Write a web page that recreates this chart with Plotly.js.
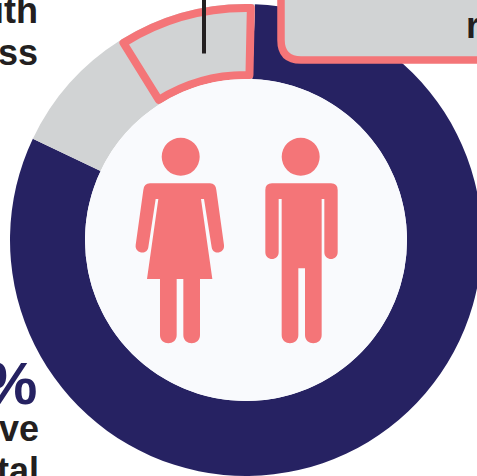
<!DOCTYPE html>
<html>
<head>
<meta charset="utf-8">
<script src="https://cdn.plot.ly/plotly-3.0.1.min.js"></script>
<style>html,body{margin:0;padding:0;width:477px;height:476px;overflow:hidden;background:#fff}</style>
</head>
<body>
<div id="chart"></div>
<script>
var sliceLabels = ["Navy share", "Grey share", "Highlighted share"];
var sliceValues = [81.45, 9.0, 9.55];
var sliceColors = ["#262262", "#d1d3d4", "#d1d3d4"];
var startAngle = 2.2;
var navy = "#262262", pink = "#f47578", grey = "#d1d3d4", ink = "#231f20", holeFill = "#f9fafd";

var W = 520, H = 520;
var cx = 246, cy = 240, rOuter = 236, rInner = 161, stroke = 8;

function fx(x){ return x / W; }
function fy(y){ return 1 - y / H; }
function pxPath(s){
  var isX = true;
  return s.replace(/-?\d+(\.\d+)?/g, function(n){
    var v = isX ? fx(+n) : fy(+n);
    isX = !isX;
    return v.toFixed(5);
  });
}
function zoomPath(s){
  var isX = true;
  return s.replace(/-?\d+(\.\d+)?/g, function(n){
    var v = isX ? fx(125 + (+n)/3) : fy(130 + (+n)/3);
    isX = !isX;
    return v.toFixed(5);
  });
}
function domainFor(r){
  return {x:[fx(cx-r), fx(cx+r)], y:[fy(cy+r), fy(cy-r)]};
}

var insetRight = 1.0, insetLeft = 0.3;
var total = sliceValues.reduce(function(a,b){return a+b;},0);
var highlightFull = sliceValues[2]/total*360;
var highlightDeg = highlightFull - insetRight - insetLeft;
var highlightStart = startAngle - highlightFull + insetLeft;
var rMid = rOuter - stroke/2;

var mainPie = {
  type:"pie", values:sliceValues, labels:sliceLabels, sort:false, direction:"clockwise",
  rotation:startAngle, hole:rInner/rOuter, textinfo:"none", hoverinfo:"skip", showlegend:false,
  marker:{colors:sliceColors, line:{width:0}},
  domain:domainFor(rOuter)
};
var outlinePie = {
  type:"pie", values:[highlightDeg, 360-highlightDeg], labels:["Outline","Rest"], sort:false, direction:"clockwise",
  rotation:highlightStart, hole:(rInner+stroke/2)/rMid, textinfo:"none", hoverinfo:"skip", showlegend:false,
  marker:{colors:[grey,"rgba(0,0,0,0)"], line:{width:[stroke,0], color:[pink,"rgba(0,0,0,0)"]}},
  domain:domainFor(rMid)
};

function circle(x,y,r,color){
  return {type:"circle", xref:"paper", yref:"paper", x0:fx(x-r), x1:fx(x+r), y0:fy(y+r), y1:fy(y-r),
          fillcolor:color, line:{width:0}};
}
var womanPath = "M 75 160 L 255 160 Q 272 160 274 180 L 297 345 C 300.5 370 263.5 377 260 352 L 237 207 L 228 207 L 262 447 L 225 447 L 225 615 C 225 648 175 648 175 615 L 175 447 L 155 447 L 155 615 C 155 648 105 648 105 615 L 105 447 L 66 447 L 100 207 L 92 207 L 70 352 C 66.5 377 28.5 370 32 345 L 55 180 Q 57 160 75 160 Z";
var manPath = "M 441 160 L 618 160 Q 638 160 638 180 L 638 367 C 638 394 598 394 598 367 L 598 207 L 590 207 L 590 615 C 590 648 540 648 540 615 L 540 415 L 520 415 L 520 615 C 520 648 470 648 470 615 L 470 207 L 461 207 L 461 367 C 461 394 421 394 421 367 L 421 180 Q 421 160 441 160 Z";

var shapes = [
  circle(cx,cy,rInner,holeFill),
  circle(180.7,156.7,19,pink),
  circle(300.7,156.7,19,pink),
  {type:"path", xref:"paper", yref:"paper", path:zoomPath(womanPath), fillcolor:pink, line:{width:0}},
  {type:"path", xref:"paper", yref:"paper", path:zoomPath(manPath), fillcolor:pink, line:{width:0}},
  {type:"line", xref:"paper", yref:"paper", x0:fx(204), x1:fx(204), y0:fy(-5), y1:fy(53.5), line:{color:ink,width:4}},
  {type:"path", xref:"paper", yref:"paper",
   path:pxPath("M 281 -10 L 281 40 Q 281 60 301 60 L 510 60 L 510 -10 Z"),
   fillcolor:grey, line:{color:pink,width:7.5}}
];

function label(text,x,y,size,color,anchor){
  return {xref:"paper", yref:"paper", x:fx(x), y:fy(y), text:text, showarrow:false,
          xanchor:anchor||"right", yanchor:"middle", borderpad:0, borderwidth:0,
          font:{family:"Liberation Sans, Arial, sans-serif", size:size, color:color, weight:700}};
}
var annotations = [
  label("ith",37.5,10,36,ink),
  label("ss",37.5,52.5,36,ink),
  label("%",37,383,60,navy),
  label("ve",39,428,36,ink),
  label("tal",39,470.5,36,ink),
  label("r",466,25,36,ink,"left")
];

Plotly.newPlot("chart",[mainPie,outlinePie],{
  width:W, height:H, margin:{l:0,r:0,t:0,b:0,pad:0},
  paper_bgcolor:"#ffffff", showlegend:false,
  shapes:shapes, annotations:annotations
},{displayModeBar:false,responsive:false});
</script>
</body>
</html>
